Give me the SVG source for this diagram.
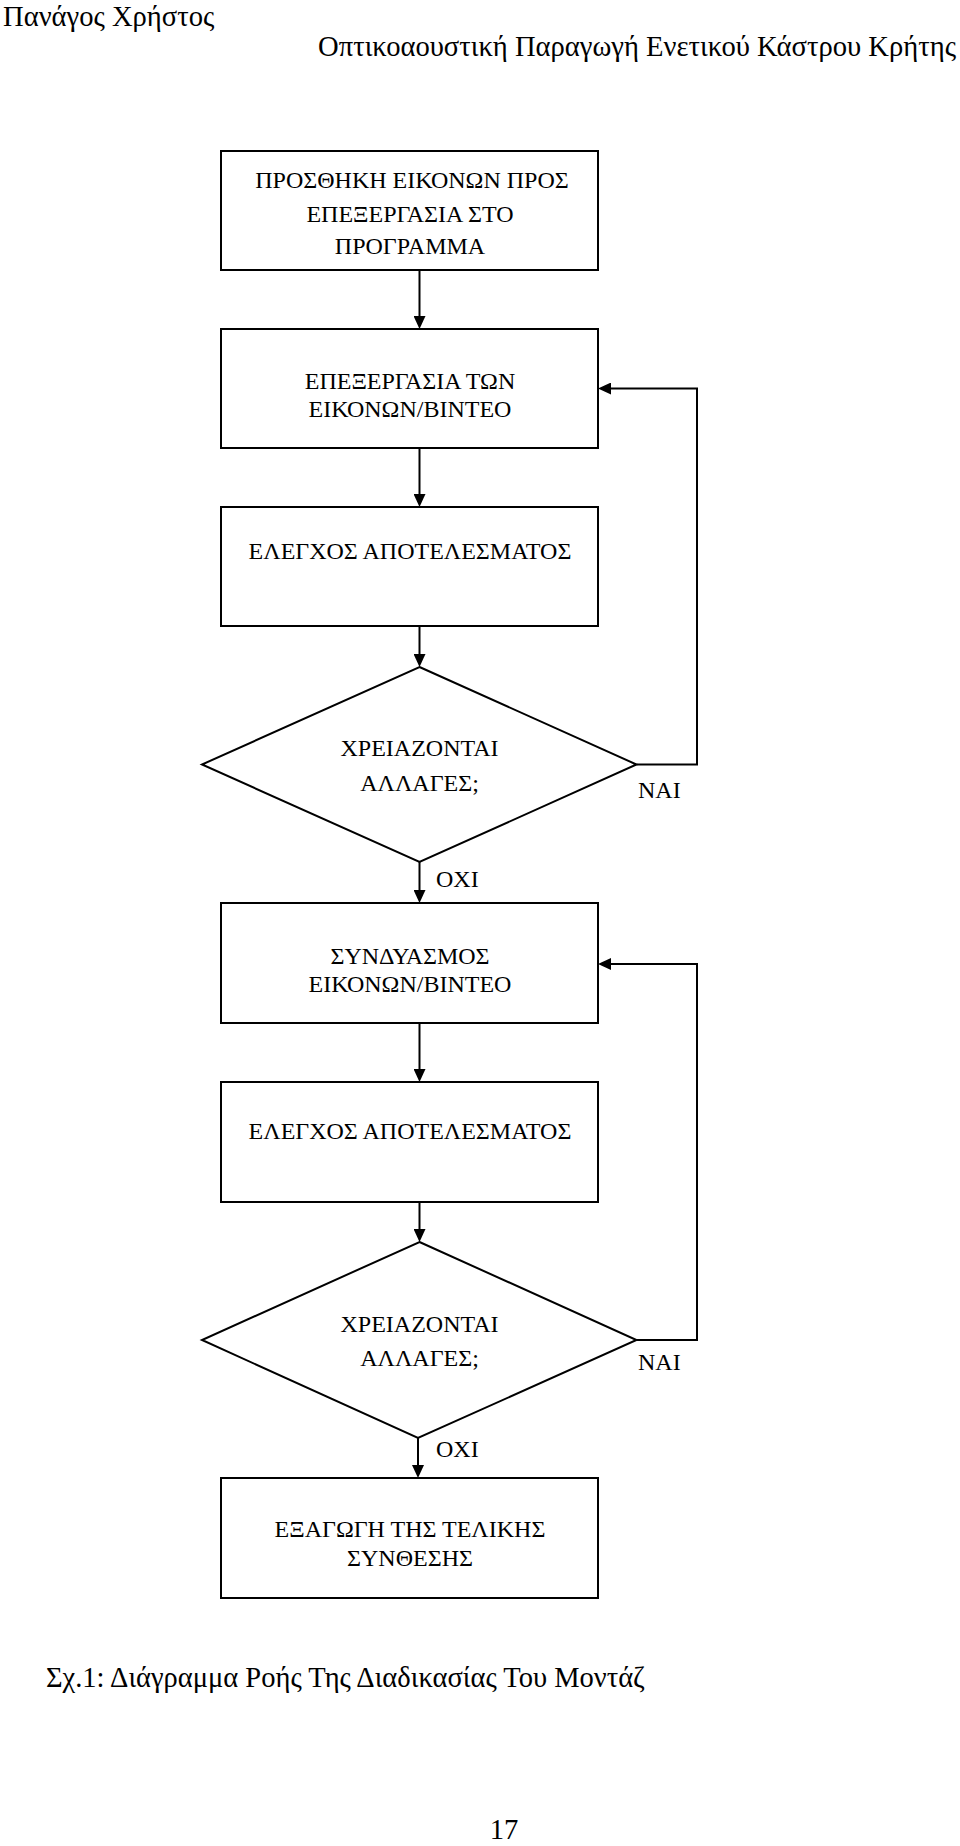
<svg xmlns="http://www.w3.org/2000/svg" width="960" height="1846" viewBox="0 0 960 1846">
<style>
text{font-family:"Liberation Serif","Times New Roman",serif;fill:#000}
.t{font-size:24px;text-anchor:middle}
.l{font-size:24px}
.h{font-size:28.6px}
.box{fill:#fff;stroke:#000;stroke-width:2}
.con{fill:none;stroke:#000;stroke-width:2}
</style>
<defs>
<marker id="arr" viewBox="0 0 13 12" refX="5" refY="6" markerWidth="13" markerHeight="12" orient="auto" markerUnits="userSpaceOnUse">
<path d="M0,0 L13,6 L0,12 z" fill="#000"/>
</marker>
</defs>
<rect width="960" height="1846" fill="#fff"/>
<g id="header">
<text class="h" x="3" y="26">Πανάγος Χρήστος</text>
<text class="h" x="956" y="56" text-anchor="end">Οπτικοαουστική Παραγωγή Ενετικού Κάστρου Κρήτης</text>
</g>
<g id="connectors">
<path class="con" d="M419.5,270 V321" marker-end="url(#arr)"/>
<path class="con" d="M419.5,448 V499" marker-end="url(#arr)"/>
<path class="con" d="M419.5,626 V659" marker-end="url(#arr)"/>
<path class="con" d="M419.5,862 V895" marker-end="url(#arr)"/>
<path class="con" d="M419.5,1023 V1074" marker-end="url(#arr)"/>
<path class="con" d="M419.5,1202 V1234" marker-end="url(#arr)"/>
<path class="con" d="M418,1438 V1470" marker-end="url(#arr)"/>
<path class="con" d="M636.5,764.5 H697 V388.5 H606" marker-end="url(#arr)"/>
<path class="con" d="M636.5,1340 H697 V964 H606" marker-end="url(#arr)"/>
</g>
<g id="n1">
<rect class="box" x="221" y="151" width="377" height="119"/>
<text class="t" x="412" y="188">ΠΡΟΣΘΗΚΗ ΕΙΚΟΝΩΝ ΠΡΟΣ</text>
<text class="t" x="410" y="221.5">ΕΠΕΞΕΡΓΑΣΙΑ ΣΤΟ</text>
<text class="t" x="410" y="254">ΠΡΟΓΡΑΜΜΑ</text>
</g>
<g id="n2">
<rect class="box" x="221" y="329" width="377" height="119"/>
<text class="t" x="410" y="389">ΕΠΕΞΕΡΓΑΣΙΑ ΤΩΝ</text>
<text class="t" x="410" y="417">ΕΙΚΟΝΩΝ/ΒΙΝΤΕΟ</text>
</g>
<g id="n3">
<rect class="box" x="221" y="507" width="377" height="119"/>
<text class="t" x="410" y="559">ΕΛΕΓΧΟΣ ΑΠΟΤΕΛΕΣΜΑΤΟΣ</text>
</g>
<g id="d1">
<polygon class="box" points="419.5,667 636.5,764.5 419.5,862 202,764.5"/>
<text class="t" x="419.5" y="756">ΧΡΕΙΑΖΟΝΤΑΙ</text>
<text class="t" x="419.5" y="790.5">ΑΛΛΑΓΕΣ;</text>
<text class="l" x="638" y="798">ΝΑΙ</text>
<text class="l" x="436" y="887">ΟΧΙ</text>
</g>
<g id="n4">
<rect class="box" x="221" y="903" width="377" height="120"/>
<text class="t" x="410" y="964">ΣΥΝΔΥΑΣΜΟΣ</text>
<text class="t" x="410" y="991.5">ΕΙΚΟΝΩΝ/ΒΙΝΤΕΟ</text>
</g>
<g id="n5">
<rect class="box" x="221" y="1082" width="377" height="120"/>
<text class="t" x="410" y="1139">ΕΛΕΓΧΟΣ ΑΠΟΤΕΛΕΣΜΑΤΟΣ</text>
</g>
<g id="d2">
<polygon class="box" points="419.5,1242 636.5,1340 418,1438 202,1340"/>
<text class="t" x="419.5" y="1331.5">ΧΡΕΙΑΖΟΝΤΑΙ</text>
<text class="t" x="419.5" y="1366">ΑΛΛΑΓΕΣ;</text>
<text class="l" x="638" y="1370">ΝΑΙ</text>
<text class="l" x="436" y="1456.5">ΟΧΙ</text>
</g>
<g id="n6">
<rect class="box" x="221" y="1478" width="377" height="120"/>
<text class="t" x="410" y="1537">ΕΞΑΓΩΓΗ ΤΗΣ ΤΕΛΙΚΗΣ</text>
<text class="t" x="410" y="1565.5">ΣΥΝΘΕΣΗΣ</text>
</g>
<g id="footer">
<text class="h" x="46" y="1687" style="font-size:28.5px">Σχ.1: Διάγραμμα Ροής Της Διαδικασίας Του Μοντάζ</text>
<text class="h" x="504" y="1839" text-anchor="middle">17</text>
</g>
</svg>
